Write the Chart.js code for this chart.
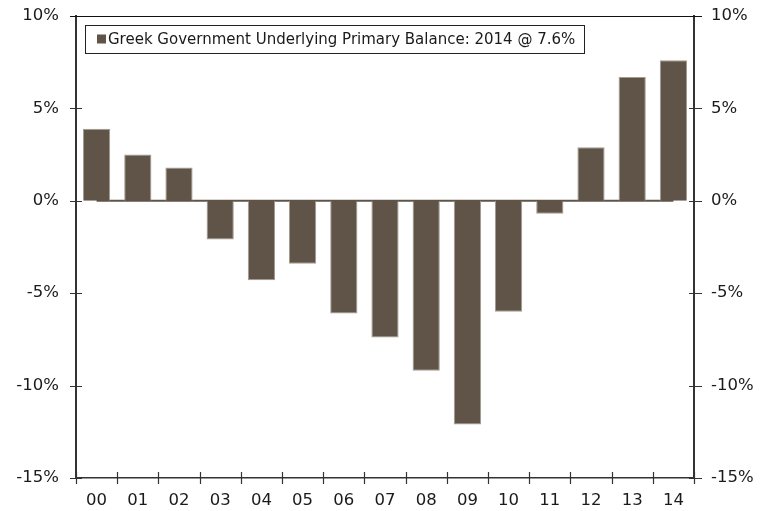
<!DOCTYPE html>
<html>
<head>
<meta charset="utf-8">
<script src="https://cdn.jsdelivr.net/npm/chart.js@4/dist/chart.umd.min.js"></script>
<style>
  html, body { margin: 0; padding: 0; background: #ffffff; }
  #wrap { width: 770px; height: 511px; }
</style>
</head>
<body>
<div id="wrap"><canvas id="chart" width="770" height="511"></canvas></div>
<script>
// Fiscal years (2000-2014), two-digit labels
const years = ['00', '01', '02', '03', '04', '05', '06', '07', '08', '09', '10', '11', '12', '13', '14'];
// Underlying primary balance, % of GDP
const primaryBalance = [3.9, 2.5, 1.8, -2.1, -4.3, -3.4, -6.1, -7.4, -9.2, -12.1, -6.0, -0.7, 2.9, 6.7, 7.6];
// Zero reference line
const zeroLine = [0, 0, 0, 0, 0, 0, 0, 0, 0, 0, 0, 0, 0, 0, 0];
// Axis range and step (percent)
const yMin = -15;
const yMax = 10;
const yStep = 5;
const seriesLabel = 'Greek Government Underlying Primary Balance: 2014 @ 7.6%';

const BAR = '#5f5447';
const AXIS = '#333333';
const TEXT = '#1a1a1a';
const FAMILY = "'DejaVu Sans', Verdana, sans-serif";
const AXIS_FONT = { family: FAMILY, size: 16.5 };
const LEGEND_FONT = { family: FAMILY, size: 15 };

// Tick marks that cross the axis lines, the top frame line and the boxed legend
const framePlugin = {
  id: 'frame',
  afterDraw(chart) {
    const ctx = chart.ctx;
    const { left, right, top, bottom } = chart.chartArea;
    const x = chart.scales.x, y = chart.scales.y;
    ctx.save();
    ctx.strokeStyle = AXIS;
    ctx.lineWidth = 1.2;
    ctx.beginPath();
    y.ticks.forEach(t => {
      const py = Math.round(y.getPixelForValue(t.value)) + 0.5;
      ctx.moveTo(left - 6, py); ctx.lineTo(left + 6, py);
      ctx.moveTo(right - 5, py); ctx.lineTo(right + 8, py);
    });
    for (let i = 0; i <= years.length; i++) {
      const px = Math.round(x.getPixelForValue(i - 0.5)) + 0.5;
      ctx.moveTo(px, bottom - 6); ctx.lineTo(px, bottom + 6);
    }
    ctx.stroke();
    // top frame line
    ctx.strokeStyle = '#111';
    ctx.lineWidth = 1;
    ctx.beginPath();
    ctx.moveTo(left - 6, Math.round(top) + 0.5);
    ctx.lineTo(right + 8, Math.round(top) + 0.5);
    ctx.stroke();

    // legend
    const ds = chart.data.datasets[0];
    ctx.font = `${LEGEND_FONT.size}px ${LEGEND_FONT.family}`;
    const tw = ctx.measureText(ds.label).width;
    const bx = left + 9, by = top + 9, bh = 28;
    const bw = 12 + 9 + 2 + tw + 9;
    ctx.fillStyle = '#ffffff';
    ctx.fillRect(bx, by, bw, bh);
    ctx.strokeStyle = '#222';
    ctx.lineWidth = 1;
    ctx.strokeRect(Math.round(bx) + 0.5, Math.round(by) + 0.5, Math.round(bw), bh);
    ctx.fillStyle = ds.backgroundColor;
    ctx.fillRect(bx + 12, by + bh / 2 - 4.5, 9, 9);
    ctx.fillStyle = TEXT;
    ctx.textBaseline = 'middle';
    ctx.textAlign = 'left';
    ctx.fillText(ds.label, bx + 23, by + bh / 2 + 1);
    ctx.restore();
  }
};

const pct = v => v + '%';
const fitY = s => { s.width = 76; s.paddingTop = 0; s.paddingBottom = 0; };

new Chart(document.getElementById('chart'), {
  data: {
    labels: years,
    datasets: [
      {
        type: 'bar',
        label: seriesLabel,
        data: primaryBalance,
        backgroundColor: BAR,
        borderColor: '#a39a90',
        borderWidth: 1,
        barPercentage: 0.66,
        categoryPercentage: 1.0,
        order: 1
      },
      {
        type: 'line',
        label: 'zero',
        data: zeroLine,
        borderColor: BAR,
        borderWidth: 2,
        pointRadius: 0,
        fill: false,
        order: 2
      }
    ]
  },
  options: {
    responsive: false,
    animation: false,
    devicePixelRatio: 1,
    layout: { padding: { top: 16, left: 0, right: 0, bottom: 0 } },
    plugins: {
      legend: { display: false },
      tooltip: { enabled: false }
    },
    scales: {
      x: {
        type: 'category',
        offset: true,
        grid: { display: false, drawTicks: false },
        border: { display: true, color: AXIS, width: 1.5 },
        ticks: { color: TEXT, font: AXIS_FONT, padding: 13, maxRotation: 0, autoSkip: false },
        afterFit: s => { s.height = 33; s.paddingLeft = 0; s.paddingRight = 0; }
      },
      y: {
        position: 'left',
        min: yMin, max: yMax,
        grid: { display: false, drawTicks: false },
        border: { display: true, color: AXIS, width: 2 },
        ticks: { stepSize: yStep, color: TEXT, font: AXIS_FONT, padding: 17, callback: pct },
        afterFit: fitY
      },
      y2: {
        position: 'right',
        min: yMin, max: yMax,
        grid: { display: false, drawTicks: false },
        border: { display: true, color: AXIS, width: 2 },
        ticks: { stepSize: yStep, color: TEXT, font: AXIS_FONT, padding: 17, callback: pct },
        afterFit: fitY
      }
    }
  },
  plugins: [framePlugin]
});
</script>
</body>
</html>
